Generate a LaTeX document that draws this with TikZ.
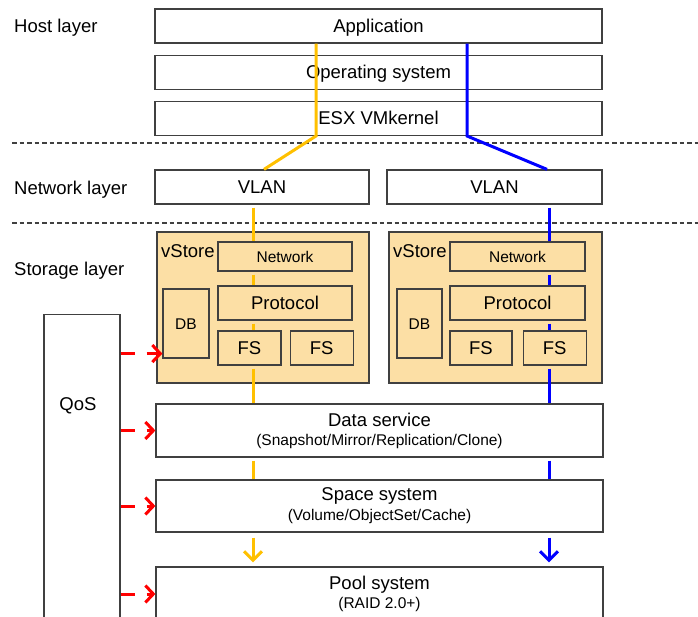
\documentclass[tikz,border=0pt]{standalone}
\usepackage{fontspec}
\setmainfont{Liberation Sans}
\usetikzlibrary{positioning,arrows.meta}
\definecolor{vsfill}{RGB}{252,223,165}
\definecolor{pathA}{RGB}{255,192,0}
\definecolor{pathB}{RGB}{0,0,255}
\definecolor{edgegray}{RGB}{64,64,64}
\newcommand{\subtxt}[1]{{\fontsize{15.5}{19}\selectfont #1}}

\tikzset{
	framebox/.style={draw=edgegray, line width=1.2pt, inner sep=0pt, minimum height=34pt, align=center},
	captxt/.style={text height=13.2pt, text depth=0pt},
	layerbox/.style={framebox, captxt},
	vbox/.style={layerbox, fill=vsfill},
	smalltxt/.style={font=\fontsize{15.5}{19}\selectfont, text height=11.1pt},
	sepline/.style={draw=edgegray, line width=1.2pt, dash pattern=on 4.5pt off 3pt},
	iopath/.style={line width=3pt, shorten <=3pt},
	downtip/.style={shorten <=5pt, shorten >=4pt, -{Straight Barb[length=9pt,width=18pt]}},
	qosarrow/.style={red, line width=3pt, dash pattern=on 14pt off 12pt, -{Straight Barb[length=8pt,width=17pt]}},
	lbl/.style={anchor=west, inner sep=0pt, captxt},
}

\begin{document}
\begin{tikzpicture}[x=1pt, y=-1pt, node distance=11pt, font=\fontsize{18.5}{20}\selectfont]
	\clip (0,0) rectangle (698,617);

	\node[layerbox, minimum width=447pt] (app) at (378.5,26) {Application};
	\node[layerbox, minimum width=447pt, below=of app] (os) {Operating system};
	\node[layerbox, minimum width=447pt, below=of os] (esx) {ESX VMkernel};
	\node[layerbox, minimum width=214pt] (vlanL) at (262,187) {VLAN};
	\node[layerbox, minimum width=215pt] (vlanR) at (494.5,187) {VLAN};

	\draw[sepline] (12,143) -- (698,143);
	\draw[sepline] (12,223) -- (698,223);

	\node[lbl] (hostlbl) at (14,26) {Host layer};
	\node[lbl] (netlbl) at (14,188) {Network layer};
	\node[lbl] (stolbl) at (14,269) {Storage layer};

	\node[vbox, minimum width=212pt, minimum height=151pt] (vsL) at (263,307.5) {};
	\node[lbl] (vsLlbl) at (161,251) {vStore};
	\node[vbox, smalltxt, minimum width=134pt, minimum height=29pt] (netL) at (285,256.5) {Network};
	\node[vbox, minimum width=134pt] (protL) at (285,303) {Protocol};
	\node[vbox, smalltxt, minimum width=46pt, minimum height=69pt] (dbL) at (186,323.5) {DB};
	\node[vbox, minimum width=63pt] (fsL1) at (249.5,348) {FS};
	\node[vbox, minimum width=63pt, right=8pt of fsL1] (fsL2) {FS};

	\node[vbox, minimum width=213pt, minimum height=151pt] (vsR) at (495.5,307.5) {};
	\node[lbl] (vsRlbl) at (393,251) {vStore};
	\node[vbox, smalltxt, minimum width=135pt, minimum height=29pt] (netR) at (517.5,256.5) {Network};
	\node[vbox, minimum width=135pt] (protR) at (517.5,303) {Protocol};
	\node[vbox, smalltxt, minimum width=45pt, minimum height=69pt] (dbR) at (419.5,323.5) {DB};
	\node[vbox, minimum width=62pt] (fsR1) at (481,348) {FS};
	\node[vbox, minimum width=63pt, right=10pt of fsR1] (fsR2) {FS};

	\node[framebox, minimum width=447pt, minimum height=53pt] (data) at (379.5,430.5)
		{Data service\\[-1pt]\subtxt{(Snapshot/Mirror/Replication/Clone)}};
	\node[framebox, minimum width=447pt, minimum height=52pt] (space) at (379.5,506)
		{Space system\\[0pt]\subtxt{(Volume/ObjectSet/Cache)}};
	\node[framebox, minimum width=447pt, minimum height=113pt] (pool) at (379.5,623.5) {};
	\node[align=center, inner sep=0pt] (poolTxt) at (379.5,594)
		{Pool system\\[-1pt]\subtxt{(RAID 2.0+)}};

	\node[framebox, minimum width=76pt, minimum height=400pt, anchor=north] (qos) at (82,314) {};
	\node[inner sep=0pt, captxt] (qosTxt) at (78,404) {QoS};

	\coordinate (oHost) at (316,0);
	\coordinate (oNet) at (264,0);
	\coordinate (oSto) at (253,0);
	\coordinate (bHost) at (467,0);
	\coordinate (bNet) at (547,0);
	\coordinate (bSto) at (549,0);

	\draw[iopath, pathA, shorten <=0pt] (app.south -| oHost) -- (esx.south -| oHost) -- (vlanL.north -| oNet);
	\draw[iopath, pathB, shorten <=0pt] (app.south -| bHost) -- (esx.south -| bHost) -- (vlanR.north -| bNet);

	\foreach \a/\b in {vlanL/netL, netL/protL, protL/fsL1, fsL1/data, data/space}
		\draw[iopath, pathA] (\a.south -| oSto) -- (\b.north -| oSto);
	\foreach \a/\b in {vlanR/netR, netR/protR, protR/fsR2, fsR2/data, data/space}
		\draw[iopath, pathB] (\a.south -| bSto) -- (\b.north -| bSto);
	\draw[iopath, pathA, downtip] (space.south -| oSto) -- (pool.north -| oSto);
	\draw[iopath, pathB, downtip] (space.south -| bSto) -- (pool.north -| bSto);

	\coordinate (dbIn) at ([yshift=5pt]dbL.south west);
	\draw[qosarrow] (dbIn -| qos.east) -- (dbIn);
	\draw[qosarrow] (data.west -| qos.east) -- (data.west);
	\draw[qosarrow] (space.west -| qos.east) -- (space.west);
	\draw[qosarrow] (poolTxt -| qos.east) -- (poolTxt -| pool.west);
\end{tikzpicture}
\end{document}
